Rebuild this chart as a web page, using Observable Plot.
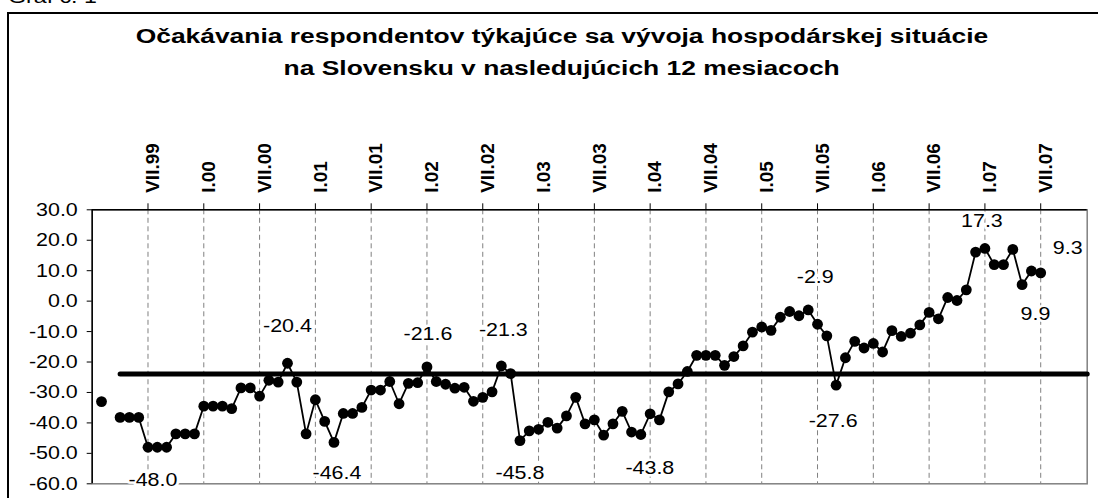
<!DOCTYPE html>
<html>
<head>
<meta charset="utf-8">
<script src="https://cdn.jsdelivr.net/npm/d3@7"></script>
<script src="https://cdn.jsdelivr.net/npm/@observablehq/plot@0.6"></script>
<style>
  html, body { margin: 0; padding: 0; background: #fff; overflow: hidden; }
  #wrap { position: relative; width: 1098px; height: 498px; overflow: hidden;
          font-family: "Liberation Sans", Arial, sans-serif; color: #000; }
  #frame { position: absolute; left: 7px; top: 12px; width: 1300px; height: 700px;
           border: 2px solid #000; box-sizing: border-box; }
  #graf { position: absolute; left: 8px; top: -12.6px; height: 17px; overflow: hidden;
          font-size: 19px; line-height: 19px;
          white-space: nowrap; transform-origin: left center; transform: scaleX(1.22); }
  .title { position: absolute; left: 0; top: 20px; width: 1124px; text-align: center;
           font-weight: bold; font-size: 20px; line-height: 32px; white-space: nowrap; }
  .title span { display: inline-block; transform: scaleX(1.32); }
  #chart { position: absolute; left: 0; top: 0; }
</style>
</head>
<body>
<div id="wrap">
  <div id="frame"></div>
  <div id="graf">Graf č. 1</div>
  <div class="title">
    <span>Očakávania respondentov týkajúce sa vývoja hospodárskej situácie</span><br>
    <span>na Slovensku v nasledujúcich 12 mesiacoch</span>
  </div>
  <div id="chart"></div>
</div>
<script>
// ---- data ----
const monthNames = ["I","II","III","IV","V","VI","VII","VIII","IX","X","XI","XII"];
const years = [1999, 2000, 2001, 2002, 2003, 2004, 2005, 2006, 2007];

// monthly values, January..December (null = no survey)
const v1999 = [null, -33.0, null, -38.2, -38.2, -38.2, -48.0, -48.0, -48.0, -43.6, -43.6, -43.6];
const v2000 = [-34.5, -34.5, -34.5, -35.3, -28.5, -28.5, -31.2, -26.0, -26.6, -20.4, -26.6, -43.6];
const v2001 = [-32.4, -39.5, -46.4, -36.9, -36.9, -34.9, -29.2, -29.2, -26.4, -33.7, -27.0, -26.8];
const v2002 = [-21.6, -26.4, -27.3, -28.6, -28.3, -32.9, -31.6, -29.8, -21.3, -23.8, -45.8, -42.6];
const v2003 = [-42.1, -39.8, -41.7, -37.7, -31.6, -40.3, -39.0, -44.0, -40.3, -36.2, -43.0, -43.8];
const v2004 = [-37.0, -39.0, -29.8, -27.2, -23.1, -17.8, -17.8, -17.8, -21.1, -18.2, -14.7, -10.2];
const v2005 = [-8.5, -9.6, -5.3, -3.4, -4.8, -2.9, -7.6, -11.4, -27.6, -18.6, -13.2, -15.4];
const v2006 = [-13.9, -16.7, -9.7, -11.6, -10.5, -7.8, -3.7, -5.8, 1.2, 0.2, 3.7, 16.1];
const v2007 = [17.3, 12.0, 12.0, 17.0, 5.4, 9.9, 9.3];

const longTermAverage = -23.9;
const averageSpan = ["IV.99", "XII.07"];

const tickLabels = ["VII.99","I.00","VII.00","I.01","VII.01","I.02","VII.02","I.03","VII.03",
                    "I.04","VII.04","I.05","VII.05","I.06","VII.06","I.07","VII.07"];
const yTicks = [-60, -50, -40, -30, -20, -10, 0, 10, 20, 30];

const valueLabels = [
  {month: "VII.99", text: "-48.0"}, {month: "X.00", text: "-20.4"},
  {month: "III.01", text: "-46.4"}, {month: "I.02", text: "-21.6"},
  {month: "IX.02", text: "-21.3"}, {month: "XI.02", text: "-45.8"},
  {month: "XII.03", text: "-43.8"}, {month: "VI.05", text: "-2.9"},
  {month: "IX.05", text: "-27.6"}, {month: "I.07", text: "17.3"},
  {month: "VI.07", text: "9.9"}, {month: "VII.07", text: "9.3"}
];

// ---- layout (label nudges, px) ----
const labelNudge = {
  "VII.99": [5, 33], "X.00": [0, -37], "III.01": [3, 31], "I.02": [1, -33],
  "IX.02": [2, -36], "XI.02": [0, 33], "XII.03": [9, 34], "VI.05": [7, -33],
  "IX.05": [-3, 36], "I.07": [-3, -27], "VI.07": [4, 43], "VII.07": [27, -25]
};

// ---- build ----
const categories = [];
years.forEach(y => monthNames.forEach(m => categories.push(`${m}.${String(y % 100).padStart(2, "0")}`)));
const allValues = [].concat(v1999, v2000, v2001, v2002, v2003, v2004, v2005, v2006, v2007);
const points = allValues.map((v, k) => ({k, month: categories[k], v}));
const kOf = m => categories.indexOf(m);
const valueOf = m => allValues[kOf(m)];
const gridX = tickLabels.map(kOf);
const avgPts = averageSpan.map(m => ({k: kOf(m), v: longTermAverage}));

const labelMarks = valueLabels.map(d => Plot.text([d], {
  x: e => kOf(e.month), y: e => valueOf(e.month), text: "text",
  dx: labelNudge[d.month][0], dy: labelNudge[d.month][1],
  fontSize: 18.5, fill: "#000", stroke: "#fff", strokeWidth: 5, paintOrder: "stroke"
}));

const chart = Plot.plot({
  width: 1098, height: 498,
  marginLeft: 91.7, marginRight: 11.3, marginTop: 209.3, marginBottom: 14.7,
  style: {fontFamily: '"Liberation Sans", Arial, sans-serif', fontSize: "18.5px",
          color: "#000", background: "transparent", overflow: "visible"},
  x: {type: "linear", domain: [0, categories.length - 1], axis: null},
  y: {domain: [-60, 30], axis: null, label: null},
  marks: [
    Plot.frame({stroke: "#808080", strokeWidth: 1.5}),
    Plot.ruleX(gridX, {stroke: "#808080", strokeWidth: 1, strokeDasharray: "5,3.5"}),
    Plot.line(avgPts, {x: "k", y: "v", stroke: "#000", strokeWidth: 5, strokeLinecap: "round"}),
    Plot.line(points, {x: "k", y: "v", stroke: "#000", strokeWidth: 1.8}),
    Plot.dot(points.filter(d => d.v != null), {x: "k", y: "v", r: 5.4, fill: "#000", stroke: null}),
    Plot.ruleY([30], {stroke: "#000", strokeWidth: 1.5}),
    Plot.ruleX(gridX, {y1: 30, y2: 30, insetTop: -6, stroke: "#000", strokeWidth: 1}),
    Plot.ruleX([0], {stroke: "#000", strokeWidth: 1.5}),
    Plot.axisY({ticks: yTicks, tickFormat: d => d.toFixed(1), tickSize: 5, tickPadding: 9.4,
                fontSize: 18.5, stroke: "#000", fill: "#000", label: null}),
    ...labelMarks,
    Plot.text(tickLabels, {x: kOf, text: d => d, frameAnchor: "top", rotate: -90,
                           textAnchor: "start", dy: -17, dx: -2.3, fontWeight: "bold",
                           fontSize: 19, fill: "#000"})
  ]
});

// horizontally widen non-rotated texts to match the original's wide lettering
chart.querySelectorAll("text").forEach(t => {
  const tr = t.getAttribute("transform") || "";
  if (tr.includes("rotate")) return;
  const s = 1.16;
  if (tr.includes("translate")) t.setAttribute("transform", tr + ` scale(${s},1)`);
  else {
    const x = +t.getAttribute("x") || 0;
    t.setAttribute("transform", `translate(${x},0) scale(${s},1) translate(${-x},0)`);
  }
});

document.getElementById("chart").appendChild(chart);
</script>
</body>
</html>
